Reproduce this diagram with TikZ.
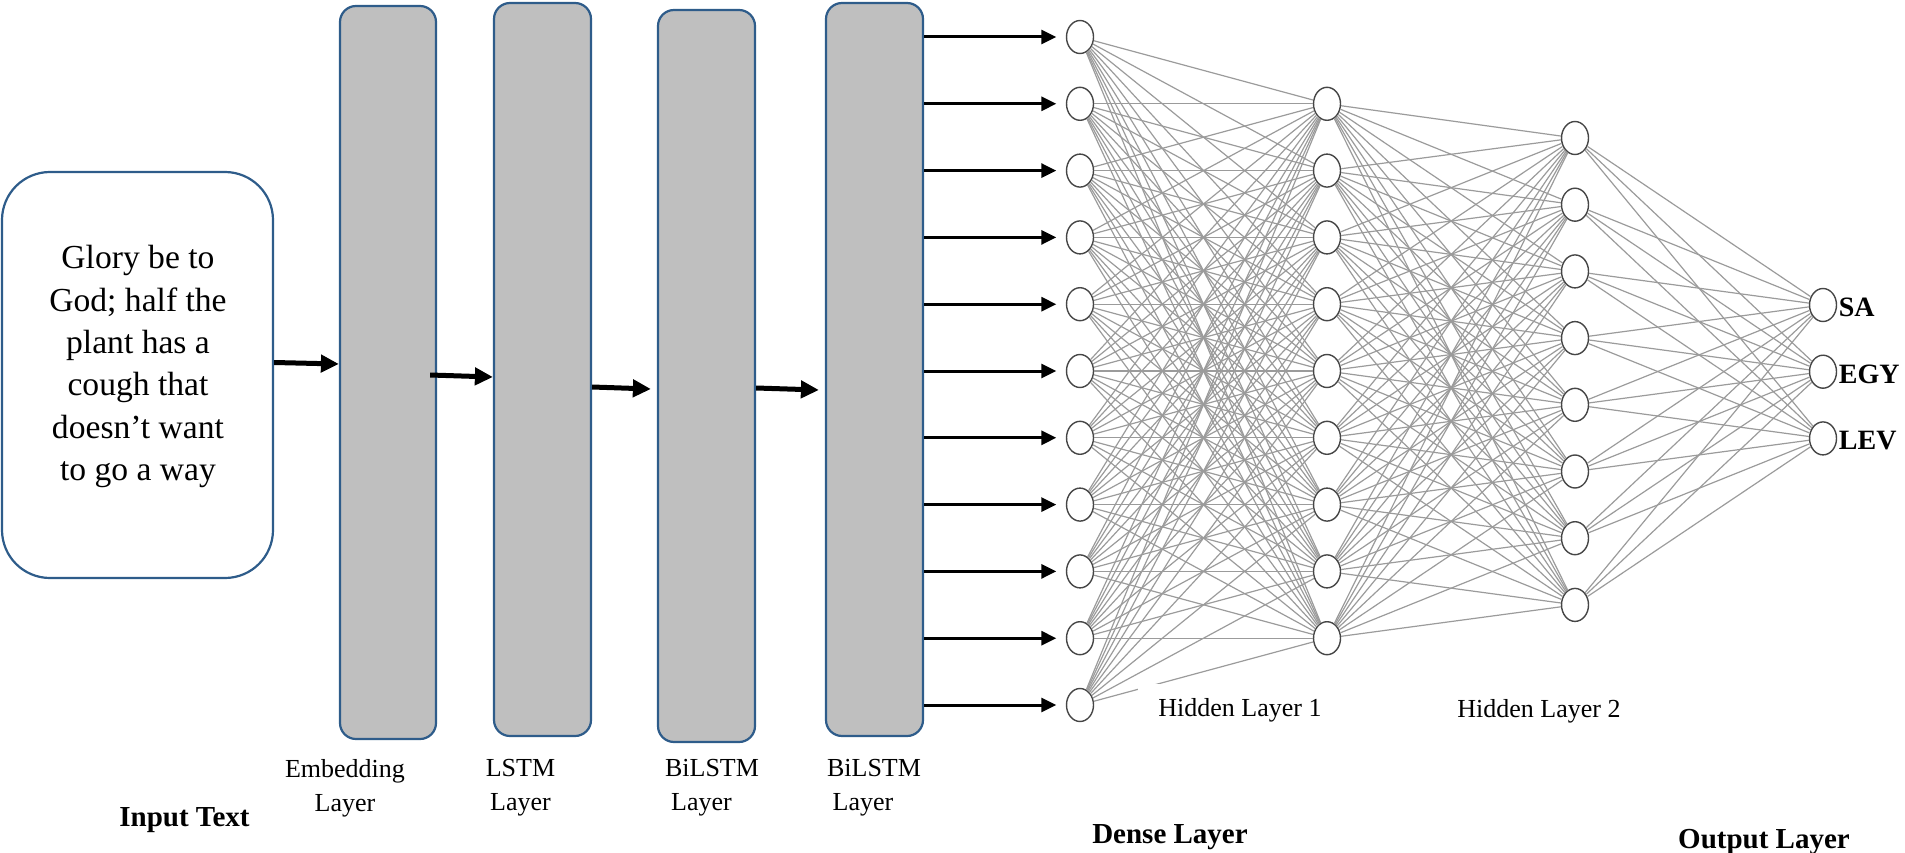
\documentclass[tikz,border=0pt]{standalone}
\usepackage{fontspec}
\setmainfont{Liberation Serif}
\usetikzlibrary{shapes.geometric,arrows.meta,calc}
\definecolor{boxblue}{RGB}{46,92,138}
\definecolor{bargray}{RGB}{191,191,191}
\definecolor{edgegray}{RGB}{155,155,155}
\definecolor{nodeline}{RGB}{70,70,70}
\begin{document}
\begin{tikzpicture}[x=1pt,y=-1pt,
  layerbar/.style={rectangle,draw=boxblue,fill=bargray,line width=2.2pt,rounded corners=16pt,inner sep=0pt},
  inbox/.style={rectangle,draw=boxblue,fill=white,line width=2.2pt,rounded corners=48pt,inner sep=0pt,minimum width=271pt,minimum height=406pt},
  neuron/.style={ellipse,draw=nodeline,fill=white,line width=1.4pt,minimum width=27pt,minimum height=33pt,inner sep=0pt},
  wire/.style={draw=edgegray,line width=1.2pt},
  bigarrow/.style={line width=5pt,-{Triangle[length=18pt,width=17pt]}},
  smallarrow/.style={line width=3pt,-{Triangle[length=15pt,width=14pt]}},
  inputtxt/.style={align=center,inner sep=0pt,font=\fontsize{33.6}{42.3}\selectfont},
  barlabel/.style={align=center,inner sep=0pt,anchor=north,font=\fontsize{26}{34}\selectfont},
  hidlabel/.style={inner xsep=20pt,inner ysep=14pt,anchor=base,fill=white,font=\fontsize{26}{30}\selectfont},
  boldlabel/.style={inner sep=0pt,anchor=base,font=\fontsize{29}{34}\selectfont\bfseries},
  outlabel/.style={inner sep=0pt,anchor=base west,font=\fontsize{28}{32}\selectfont\bfseries}
]
\useasboundingbox (0,0) rectangle (1905,853);

% input text box
\node[inbox] (inbox) at (137.5,375) {};
\node[inputtxt,anchor=north] (intext) at (138,245.3) {Glory be to\\God; half the\\plant has a\\cough that\\doesn’t want\\to go a way};

% layer bars
\node[layerbar,minimum width=96pt,minimum height=733pt] (bar1) at (388,372.5) {};
\node[layerbar,minimum width=97pt,minimum height=733pt] (bar2) at (542.5,369.5) {};
\node[layerbar,minimum width=97pt,minimum height=732pt] (bar3) at (706.5,376) {};
\node[layerbar,minimum width=97pt,minimum height=733pt] (bar4) at (874.5,369.5) {};

% arrows between input and bars
\draw[bigarrow] ([shift={(0,-12.5)}]inbox.east) -- ([shift={(0,-8.5)}]bar1.west);
\draw[bigarrow] ([shift={(-7,2.5)}]bar1.east) -- ([shift={(0,7.5)}]bar2.west);
\draw[bigarrow] ([shift={(0,17.5)}]bar2.east) -- ([shift={(-6,13)}]bar3.west);
\draw[bigarrow] ([shift={(0,12)}]bar3.east) -- ([shift={(-6,20.5)}]bar4.west);

% bar labels
\node[barlabel] (lab1) at (345,759) {Embedding\\Layer};
\node[barlabel] (lab2) at (520.5,759.5) {LSTM\\Layer};
\node[barlabel] (lab3) at (712,759) {BiLSTM\\Layer\kern21pt};
\node[barlabel] (lab4) at (874,759) {BiLSTM\\Layer\kern22pt};
\node[boldlabel] (intitle) at (184.5,826) {Input Text};

% neurons
\foreach \k in {1,...,11}
  \node[neuron] (i\k) at (1080,{37+66.8*(\k-1)}) {};
\foreach \k in {1,...,9}
  \node[neuron] (h\k) at (1327,{103.8+66.8*(\k-1)}) {};
\foreach \k in {1,...,8}
  \node[neuron] (g\k) at (1575,{138+66.7*(\k-1)}) {};
\node[neuron] (o1) at (1823,305) {};
\node[neuron] (o2) at (1823,371.7) {};
\node[neuron] (o3) at (1823,438.4) {};

% connections
\foreach \a in {1,...,11}
  \foreach \b in {1,...,9}
    \draw[wire] (i\a) -- (h\b);
\foreach \a in {1,...,9}
  \foreach \b in {1,...,8}
    \draw[wire] (h\a) -- (g\b);
\foreach \a in {1,...,8}
  \foreach \b in {1,2,3}
    \draw[wire] (g\a) -- (o\b);

% arrows from last BiLSTM bar to dense layer
\foreach \k in {1,...,11}
  \draw[smallarrow,shorten >=9.5pt] (bar4.east |- i\k) -- (i\k.west);

% labels
\node[hidlabel] (hl1) at (1240,716) {Hidden Layer 1};
\node[hidlabel] (hl2) at (1539,717) {Hidden Layer 2};
\node[boldlabel] (dense) at (1170,843) {Dense Layer};
\node[boldlabel] (outl) at (1764,848) {Output Layer};
\node[outlabel] (sa) at ($(o1.east)+(1.5,11.5)$) {SA};
\node[outlabel] (egy) at ($(o2.east)+(1.5,11.5)$) {EGY};
\node[outlabel] (lev) at ($(o3.east)+(1.5,11.5)$) {LEV};
\end{tikzpicture}
\end{document}
